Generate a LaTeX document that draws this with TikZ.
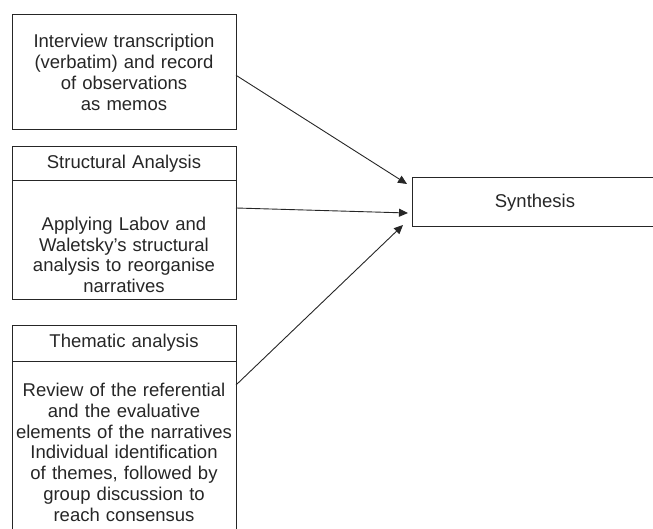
\documentclass[tikz,border=0pt]{standalone}
\usepackage{fontspec}
\setmainfont{Liberation Sans}
\usetikzlibrary{positioning, arrows.meta}

\begin{document}
\begin{tikzpicture}[
  caja/.style={draw=black!85, line width=1pt, align=center, text=black!85,
               font=\fontsize{18.5}{20.8}\selectfont, inner sep=0pt, outer sep=0pt,
               minimum width=224pt, text width=224pt},
  cab/.style={caja, minimum height=34pt},
  fl/.style={-{Triangle[length=9pt, width=8pt]}, black!85, line width=0.9pt}]
\useasboundingbox (0,0) rectangle (653pt,-529pt);
\node[caja, anchor=north west, minimum height=115.5pt] (transc) at (12pt,-14.5pt)
  {Interview transcription\\(verbatim) and record\\of observations\\as memos};
\node[cab, below=17pt of transc] (esth) {Structural Analysis};
\node[caja, minimum height=118pt, below=0pt of esth] (estb)
  {\rule{0pt}{43pt}Applying Labov and\\Waletsky's structural\\analysis to reorganise\\narratives};
\node[cab, minimum height=36pt, below=26pt of estb] (temh) {Thematic analysis};
\node[caja, minimum height=179pt, below=0pt of temh] (temb)
  {\rule{0pt}{17pt}Review of the referential\\and the evaluative\\elements of the narratives\\Individual identification\\of themes, followed by\\group discussion to\\reach consensus};
\node[caja, anchor=north west, minimum width=246pt, text width=246pt, minimum height=49pt]
  (synth) at (412pt,-178pt) {Synthesis};
\draw[fl] ([yshift=-3pt]transc.east) -- ([xshift=-5pt, yshift=-6pt]synth.north west);
\draw[fl] ([yshift=-27pt]estb.north east) -- ([xshift=-4pt, yshift=-10.5pt]synth.west);
\draw[fl] ([yshift=-24pt]temb.north east) -- ([xshift=-9pt, yshift=2pt]synth.south west);
\end{tikzpicture}
\end{document}
